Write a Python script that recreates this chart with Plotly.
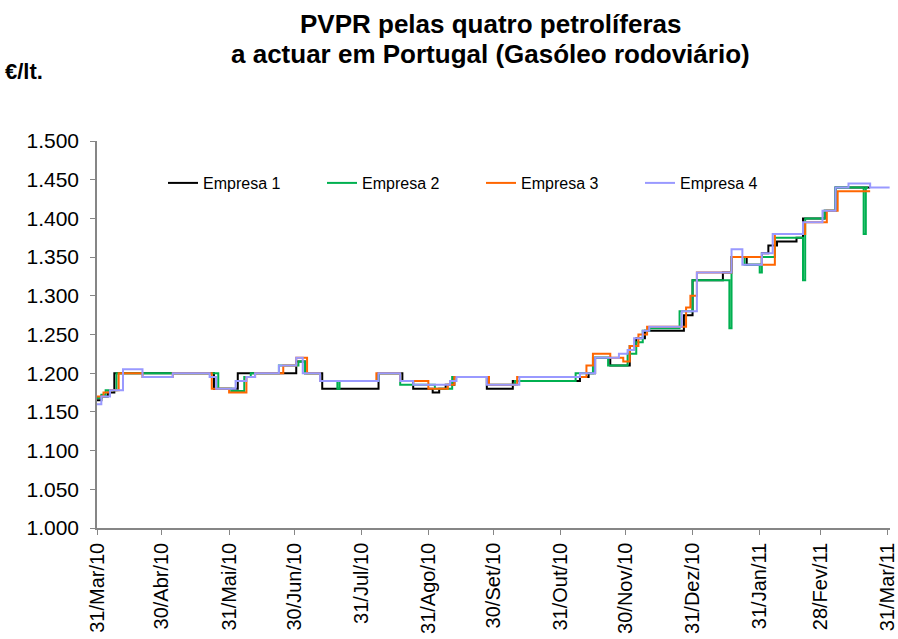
import plotly.graph_objects as go

# ---- data (change points, price holds until next date) ----
e1_dates = ["2010-03-31", "2010-04-02", "2010-04-05", "2010-04-08", "2010-05-24", "2010-06-04",
            "2010-07-01", "2010-07-05", "2010-07-13", "2010-08-08", "2010-08-19", "2010-08-24",
            "2010-09-02", "2010-09-05", "2010-09-08", "2010-09-12", "2010-09-27", "2010-10-09",
            "2010-11-09", "2010-11-13", "2010-11-16", "2010-11-23", "2010-12-02", "2010-12-05",
            "2010-12-09", "2010-12-27", "2010-12-31", "2011-01-14", "2011-01-18", "2011-01-25",
            "2011-02-01", "2011-02-04", "2011-02-08", "2011-02-17", "2011-02-20", "2011-03-02",
            "2011-03-07", "2011-03-23"]
e1_vals = [1.165, 1.170, 1.175, 1.200, 1.180, 1.200,
           1.215, 1.200, 1.180, 1.200, 1.190, 1.180,
           1.175, 1.180, 1.185, 1.195, 1.180, 1.190,
           1.195, 1.200, 1.220, 1.210, 1.235, 1.245,
           1.255, 1.275, 1.320, 1.330, 1.350, 1.340,
           1.355, 1.365, 1.370, 1.375, 1.400, 1.410,
           1.440, 1.440]

e2_dates = ["2010-03-31", "2010-04-02", "2010-04-04", "2010-04-09", "2010-05-26", "2010-06-01",
            "2010-06-07", "2010-06-10", "2010-06-23", "2010-07-02", "2010-07-05", "2010-07-12",
            "2010-07-20", "2010-07-21", "2010-08-08", "2010-08-18", "2010-09-03", "2010-09-11",
            "2010-09-28", "2010-10-10", "2010-11-07", "2010-11-15", "2010-11-22", "2010-12-01",
            "2010-12-05", "2010-12-08", "2010-12-11", "2010-12-25", "2010-12-31", "2011-01-17",
            "2011-01-18", "2011-01-24", "2011-01-31", "2011-02-01", "2011-02-07", "2011-02-20",
            "2011-02-21", "2011-03-02", "2011-03-07", "2011-03-20", "2011-03-21", "2011-03-22"]
e2_vals = [1.168, 1.172, 1.178, 1.200, 1.180, 1.177,
           1.195, 1.200, 1.210, 1.215, 1.200, 1.190,
           1.180, 1.190, 1.200, 1.185, 1.180, 1.195,
           1.185, 1.190, 1.200, 1.220, 1.210, 1.225,
           1.240, 1.255, 1.258, 1.280, 1.320, 1.258,
           1.350, 1.340, 1.330, 1.350, 1.375, 1.320,
           1.400, 1.410, 1.440, 1.380, 1.440, 1.440]

e3_dates = ["2010-03-31", "2010-04-03", "2010-04-06", "2010-04-10", "2010-04-21", "2010-05-05",
            "2010-05-23", "2010-05-31", "2010-06-08", "2010-06-12", "2010-06-25", "2010-07-01",
            "2010-07-06", "2010-07-12", "2010-08-07", "2010-08-18", "2010-08-31", "2010-09-09",
            "2010-09-12", "2010-09-28", "2010-10-11", "2010-11-12", "2010-11-15", "2010-11-23",
            "2010-11-29", "2010-12-02", "2010-12-06", "2010-12-10", "2010-12-28", "2010-12-30",
            "2011-01-02", "2011-01-18", "2011-02-01", "2011-02-07", "2011-02-21", "2011-03-03",
            "2011-03-08", "2011-03-23"]
e3_vals = [1.170, 1.175, 1.178, 1.200, 1.195, 1.200,
           1.180, 1.175, 1.195, 1.200, 1.210, 1.220,
           1.200, 1.190, 1.200, 1.190, 1.180, 1.185,
           1.195, 1.185, 1.195, 1.210, 1.225, 1.220,
           1.215, 1.235, 1.250, 1.260, 1.285, 1.300,
           1.330, 1.350, 1.340, 1.380, 1.395, 1.410,
           1.435, 1.435]

e4_dates = ["2010-03-31", "2010-04-02", "2010-04-06", "2010-04-12", "2010-04-21", "2010-05-05",
            "2010-05-22", "2010-05-25", "2010-06-03", "2010-06-08", "2010-06-12", "2010-06-23",
            "2010-07-01", "2010-07-04", "2010-07-12", "2010-08-08", "2010-08-18", "2010-08-24",
            "2010-09-10", "2010-09-13", "2010-09-27", "2010-10-12", "2010-11-09", "2010-11-16",
            "2010-11-27", "2010-12-01", "2010-12-04", "2010-12-08", "2010-12-11", "2010-12-26",
            "2011-01-02", "2011-01-18", "2011-01-23", "2011-02-01", "2011-02-06", "2011-02-20",
            "2011-03-01", "2011-03-07", "2011-03-13", "2011-03-23", "2011-04-01"]
e4_vals = [1.160, 1.170, 1.178, 1.205, 1.195, 1.200,
           1.195, 1.180, 1.190, 1.195, 1.200, 1.210,
           1.220, 1.200, 1.190, 1.200, 1.190, 1.185,
           1.190, 1.195, 1.185, 1.195, 1.200, 1.220,
           1.225, 1.230, 1.245, 1.255, 1.260, 1.280,
           1.330, 1.360, 1.340, 1.355, 1.380, 1.395,
           1.410, 1.440, 1.445, 1.440, 1.440]

series_names = ["Empresa 1", "Empresa 2", "Empresa 3", "Empresa 4"]
series_colors = ["#000000", "#00B050", "#FF6600", "#9999FF"]

tick_dates = ["2010-03-31", "2010-04-30", "2010-05-31", "2010-06-30", "2010-07-31", "2010-08-31",
              "2010-09-30", "2010-10-31", "2010-11-30", "2010-12-31", "2011-01-31", "2011-02-28",
              "2011-03-31"]
tick_labels = ["31/Mar/10", "30/Abr/10", "31/Mai/10", "30/Jun/10", "31/Jul/10", "31/Ago/10",
               "30/Set/10", "31/Out/10", "30/Nov/10", "31/Dez/10", "31/Jan/11", "28/Fev/11",
               "31/Mar/11"]

title_lines = ["PVPR pelas quatro petrolíferas", "a actuar em Portugal (Gasóleo rodoviário)"]
unit_label = "€/lt."

FONT = "Liberation Sans, Arial, sans-serif"
L, T, W, H = 97, 141, 793, 387

fig = go.Figure()
all_data = [(e1_dates, e1_vals), (e2_dates, e2_vals), (e3_dates, e3_vals), (e4_dates, e4_vals)]
for (d, v), name, col in zip(all_data, series_names, series_colors):
    fig.add_trace(go.Scatter(x=d, y=v, mode="lines", name=name,
                             line=dict(color=col, width=2, shape="hv")))

annots = []
for i, txt in enumerate(title_lines):
    annots.append(dict(text="<b>" + txt + "</b>", xref="paper", yref="paper",
                       x=(490 - L) / W, y=(T + H - 7 - 30 * i) / H,
                       xanchor="center", yanchor="top", showarrow=False,
                       font=dict(family=FONT, size=26, color="#000000")))
annots.append(dict(text="<b>" + unit_label + "</b>", xref="paper", yref="paper",
                   x=(3 - L) / W, y=(T + H - 72) / H,
                   xanchor="left", yanchor="middle", showarrow=False,
                   font=dict(family=FONT, size=22, color="#000000")))

fig.update_layout(
    width=898, height=639,
    margin=dict(l=L, r=898 - L - W, t=T, b=639 - T - H, autoexpand=False),
    paper_bgcolor="white", plot_bgcolor="white",
    font=dict(family=FONT, color="#000000"),
    showlegend=True,
    legend=dict(orientation="h", x=(163 - L) / W, xanchor="left", y=(T + H - 183) / H,
                yanchor="middle", bgcolor="rgba(0,0,0,0)",
                font=dict(family=FONT, size=16, color="#000000"),
                entrywidth=114, entrywidthmode="pixels", traceorder="normal"),
    annotations=annots,
)

fig.update_xaxes(type="date", range=["2010-03-31", "2011-04-01 04:00"], automargin=False,
                 tickmode="array", tickvals=tick_dates, ticktext=tick_labels, tickangle=-90,
                 tickfont=dict(family=FONT, size=20, color="#000000"),
                 showgrid=False, zeroline=False, showline=True, linecolor="#868686", linewidth=1.5,
                 ticks="outside", ticklen=5, tickcolor="#868686")
fig.update_yaxes(range=[1.0, 1.5], dtick=0.05, tick0=1.0, tickformat=".3f", automargin=False,
                 tickfont=dict(family=FONT, size=21, color="#000000"), ticklabelstandoff=7,
                 showgrid=False, zeroline=False, showline=True, linecolor="#868686", linewidth=1.5,
                 ticks="outside", ticklen=5, tickcolor="#868686")

fig.write_html("out.html", config={"displayModeBar": False},
               post_script="document.body.style.margin='0';document.body.style.overflow='hidden';")
